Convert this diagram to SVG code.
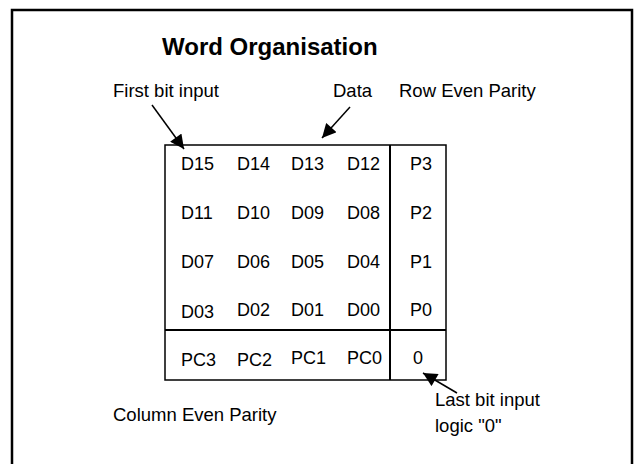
<svg xmlns="http://www.w3.org/2000/svg" width="634" height="464" viewBox="0 0 634 464">
<style>
text{font-family:"Liberation Sans",Arial,sans-serif;fill:#000}
.t{font-size:18.5px}
.c{font-size:18px}
.title{font-size:24px;font-weight:bold}
.ln{stroke:#000;fill:none}
</style>
<defs>
<marker id="ah" viewBox="0 0 10 10" refX="10" refY="5" markerWidth="15" markerHeight="14" markerUnits="userSpaceOnUse" orient="auto">
<path d="M0,0 L10,5 L0,10 z" fill="#000"/>
</marker>
</defs>
<rect width="634" height="464" fill="#fff"/>
<g id="frame"><path class="ln" stroke-width="2.5" d="M12,470 V10 H632 V470"/></g>
<g id="title"><text class="title" x="162" y="55">Word Organisation</text></g>
<g id="labels">
<text class="t" x="113" y="97">First bit input</text>
<text class="t" x="333" y="97">Data</text>
<text class="t" x="399" y="97">Row Even Parity</text>
<text class="t" x="113" y="421">Column Even Parity</text>
<text class="t" x="435" y="406">Last bit input</text>
<text class="t" x="435" y="432">logic "0"</text>
</g>
<g id="table">
<rect class="ln" stroke-width="1.5" x="165" y="145" width="281" height="235"/>
<line class="ln" stroke-width="2" x1="390" y1="145" x2="390" y2="380"/>
<line class="ln" stroke-width="2" x1="165" y1="330" x2="446" y2="330"/>
<text class="c" x="181" y="170">D15</text><text class="c" x="237" y="170">D14</text><text class="c" x="291" y="170">D13</text><text class="c" x="347" y="170">D12</text><text class="c" x="410" y="170">P3</text>
<text class="c" x="181" y="219">D11</text><text class="c" x="237" y="219">D10</text><text class="c" x="291" y="219">D09</text><text class="c" x="347" y="219">D08</text><text class="c" x="410" y="219">P2</text>
<text class="c" x="181" y="268">D07</text><text class="c" x="237" y="268">D06</text><text class="c" x="291" y="268">D05</text><text class="c" x="347" y="268">D04</text><text class="c" x="410" y="268">P1</text>
<text class="c" x="181" y="318">D03</text><text class="c" x="237" y="316">D02</text><text class="c" x="291" y="316">D01</text><text class="c" x="347" y="316">D00</text><text class="c" x="410" y="316">P0</text>
<text class="c" x="181" y="366">PC3</text><text class="c" x="237" y="366">PC2</text><text class="c" x="291" y="364">PC1</text><text class="c" x="347" y="364">PC0</text><text class="c" x="413" y="364">0</text>
</g>
<g id="connectors">
<line class="ln" stroke-width="1.5" x1="152" y1="105" x2="184" y2="149" marker-end="url(#ah)"/>
<line class="ln" stroke-width="1.5" x1="350" y1="107" x2="322" y2="138" marker-end="url(#ah)"/>
<line class="ln" stroke-width="1.5" x1="457" y1="393" x2="423" y2="373" marker-end="url(#ah)"/>
</g>
</svg>
